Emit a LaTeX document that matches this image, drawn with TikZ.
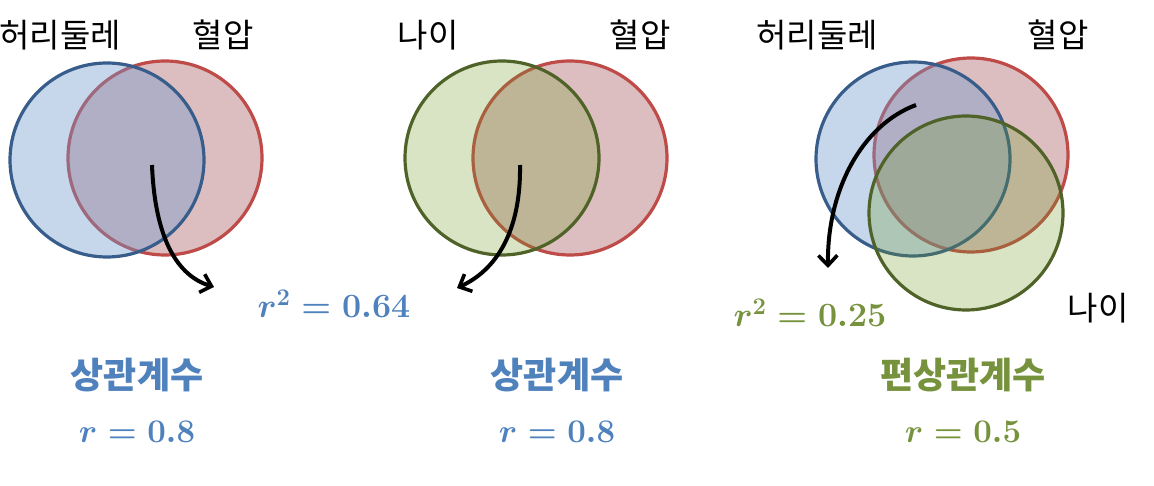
\RequirePackage{fix-cm}
\documentclass[tikz,border=0pt]{standalone}
\usepackage{fontspec}
\newfontfamily\kr{Noto Sans CJK KR}
\usetikzlibrary{arrows.meta}
\definecolor{bstroke}{RGB}{56,93,138}
\definecolor{bfill}{RGB}{112,152,205}
\definecolor{rstroke}{RGB}{190,75,72}
\definecolor{rfill}{RGB}{155,69,78}
\definecolor{gstroke}{RGB}{79,98,40}
\definecolor{gfill}{RGB}{111,155,37}
\definecolor{mblue}{RGB}{79,129,189}
\definecolor{mgreen}{RGB}{118,146,60}
\tikzset{
  venn/.style={circle, inner sep=0pt, minimum size=194pt, line width=3.2pt},
  bluec/.style={venn, draw=bstroke, fill=bfill, fill opacity=0.4},
  redc/.style={venn, draw=rstroke, fill=rfill, fill opacity=0.35},
  greenc/.style={venn, draw=gstroke, fill=gfill, fill opacity=0.27},
  lbl/.style={font=\kr\fontsize{33}{36}\selectfont, text=black},
  ttl/.style={font=\kr\bfseries\fontsize{36}{40}\selectfont},
  eq/.style={font=\fontsize{34}{38}\selectfont\boldmath},
  eqs/.style={font=\fontsize{33}{36}\selectfont\boldmath},
  arr/.style={line width=4pt, -{Straight Barb[length=10pt,width=19pt,line width=3.6pt]}}
}
\begin{document}
\begin{tikzpicture}[x=1pt,y=-1pt]
\useasboundingbox (0,0) rectangle (1154,486);
% left panel
\node[redc] (L2) at (165,158) {};
\node[bluec] (L1) at (107,160) {};
\node[lbl] (L1t) at (60,35) {허리둘레};
\node[lbl] (L2t) at (223,35) {혈압};
\coordinate (La) at (152,165);
\coordinate (Lb) at (214,287);
\draw[arr] (La) .. controls (155,240) and (178,276) .. (Lb);
\node[eq, text=mblue] (Lr) at (334,304) {$r^2 = 0.64$};
\node[ttl, text=mblue] (Lh) at (137,375) {상관계수};
\node[eqs, text=mblue] (Le) at (137,432) {$r = 0.8$};
% middle panel
\node[redc] (M2) at (570,158) {};
\node[greenc] (M1) at (502,158) {};
\node[lbl] (M1t) at (428,35) {나이};
\node[lbl] (M2t) at (640,35) {혈압};
\coordinate (Ma) at (520,165);
\coordinate (Mb) at (457,288);
\draw[arr] (Ma) .. controls (521,232) and (496,270) .. (Mb);
\node[ttl, text=mblue] (Mh) at (557,375) {상관계수};
\node[eqs, text=mblue] (Me) at (557,432) {$r = 0.8$};
% right panel
\node[redc] (R2) at (971,155) {};
\node[bluec] (R1) at (913,159) {};
\node[greenc] (R3) at (966,213) {};
\node[lbl] (R1t) at (817,35) {허리둘레};
\node[lbl] (R2t) at (1058,35) {혈압};
\node[lbl] (R3t) at (1098,308) {나이};
\coordinate (Ra) at (916,105);
\coordinate (Rb) at (828,268);
\draw[arr] (Ra) .. controls (862,125) and (827,190) .. (Rb);
\node[eq, text=mgreen] (Rr) at (810,313) {$r^2 = 0.25$};
\node[ttl, text=mgreen] (Rh) at (963,375) {편상관계수};
\node[eqs, text=mgreen] (Re) at (963,432) {$r = 0.5$};
\end{tikzpicture}
\end{document}
